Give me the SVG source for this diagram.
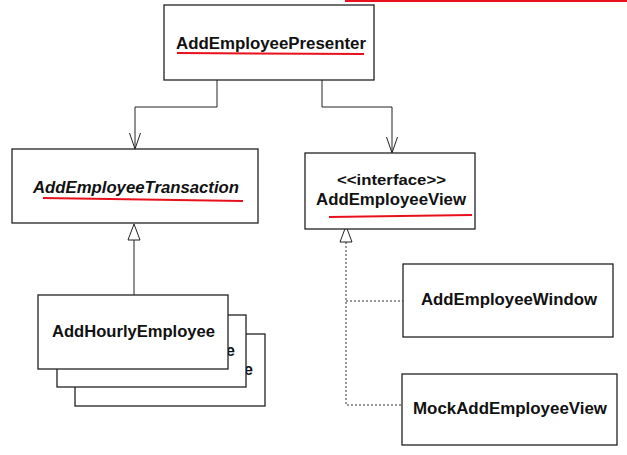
<svg xmlns="http://www.w3.org/2000/svg" width="627" height="455" viewBox="0 0 627 455">
<style>
.box{fill:#fff;stroke:#222;stroke-width:1.3}
.t{font-family:"Liberation Sans",Arial,sans-serif;font-weight:bold;font-size:16px;fill:#111}
.ul{stroke:#e8101c;stroke-width:2;fill:none}
.ln{stroke:#222;stroke-width:1;fill:none}
.dash{stroke:#333;stroke-width:1;fill:none;stroke-dasharray:2 2}
.tri{fill:#fff;stroke:#222;stroke-width:1}
</style>
<line x1="345" y1="1" x2="627" y2="1" stroke="#e8101c" stroke-width="2"/>
<g id="connectors">
<path class="ln" d="M217,80 V107 H135 V148"/>
<path class="ln" d="M129.5,133 L135,149 L140.5,133"/>
<path class="ln" d="M322,80 V107 H392 V152"/>
<path class="ln" d="M386.5,137 L392,153 L397.5,137"/>
<line class="ln" x1="134" y1="240" x2="134" y2="295"/>
<path class="tri" d="M134,224 L128,240 L140,240 Z"/>
<path class="dash" d="M346,242 V405 H402"/>
<path class="dash" d="M346,301 H403"/>
<path class="tri" d="M346,226 L340,242 L352,242 Z"/>
</g>
<g id="presenter">
<rect class="box" x="164" y="5" width="210" height="75"/>
<text class="t" x="176" y="49" textLength="190" lengthAdjust="spacingAndGlyphs">AddEmployeePresenter</text>
<line class="ul" x1="177" y1="53" x2="364" y2="54"/>
</g>
<g id="transaction">
<rect class="box" x="12" y="149" width="246" height="74"/>
<text class="t" x="33" y="193" style="font-style:italic" textLength="206" lengthAdjust="spacingAndGlyphs">AddEmployeeTransaction</text>
<line class="ul" x1="43" y1="198" x2="243" y2="201"/>
</g>
<g id="view">
<rect class="box" x="305" y="153" width="170" height="76"/>
<text class="t" x="337" y="185" style="font-size:15px" textLength="109" lengthAdjust="spacingAndGlyphs">&lt;&lt;interface&gt;&gt;</text>
<text class="t" x="316" y="205" textLength="150" lengthAdjust="spacingAndGlyphs">AddEmployeeView</text>
<line class="ul" x1="329" y1="217" x2="472" y2="215"/>
</g>
<g id="hourly">
<rect class="box" x="75" y="334" width="190" height="72"/>
<text class="t" x="253" y="375" text-anchor="end">e</text>
<rect class="box" x="57" y="315" width="189" height="72"/>
<text class="t" x="235" y="356" text-anchor="end">e</text>
<rect class="box" x="38" y="295" width="190" height="74"/>
<text class="t" x="52" y="337" textLength="163" lengthAdjust="spacingAndGlyphs">AddHourlyEmployee</text>
</g>
<g id="window">
<rect class="box" x="403" y="264" width="210" height="73"/>
<text class="t" x="421" y="305" textLength="176" lengthAdjust="spacingAndGlyphs">AddEmployeeWindow</text>
</g>
<g id="mock">
<rect class="box" x="402" y="374" width="215" height="71"/>
<text class="t" x="413" y="414" textLength="194" lengthAdjust="spacingAndGlyphs">MockAddEmployeeView</text>
</g>
</svg>
